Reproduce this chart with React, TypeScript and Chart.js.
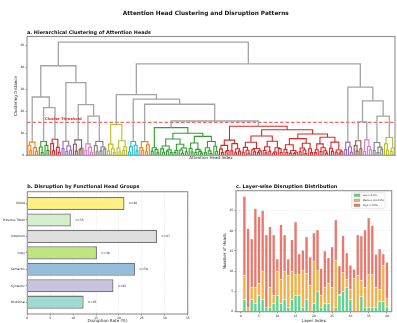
import React, { useEffect, useRef } from "react";
import { Chart, registerables } from "chart.js";
Chart.register(...registerables);

const FONT = "'DejaVu Sans', 'Liberation Sans', sans-serif";
const TEXT = "#262626";

// ---------------- Panel a: hierarchical clustering ----------------
// Compact tree notation: "o" = leaf, "(AB)h" = merge of A and B at height h,
// uppercase letter = reference to a colored cluster.
const clusterIds = ["A", "B", "C", "D", "E", "F", "G", "H", "I", "J", "K", "L", "M", "N", "O", "P", "Q"];
const clusterColors = [
  "#ff7f0e", "#2ca02c", "#d62728", "#9467bd", "#8c564b", "#e377c2", "#7f7f7f", "#bcbd22", "#17becf",
  "#ff7f0e", "#2ca02c", "#d62728", "#9467bd", "#8c564b", "#e377c2", "#7f7f7f", "#bcbd22",
];
const greenBigParts = [
  "((oo)1.8(o(oo)1.1)2.6)3.4",
  "((o(oo)1.4)2.9((oo)1.9(oo)1.2)2.5)4.2",
  "(((oo)1.3o)2.2((o(oo)0.9)2.4(oo)1.6)3.3)5.0",
  "((o(oo)1.5)3.1((oo)1.3(o(oo)1.0)1.8)2.7)5.6",
  "(((oo)1.2(o(oo)0.8)2.0)3.4(o(oo)1.7)4.1)6.3",
];
const redBigParts = [
  "((o(oo)1.2)2.8((oo)1.6o)2.2)4.5",
  "((oo)2.0((oo)1.1(oo)1.9)3.0)5.3",
  "(((oo)1.4(o(oo)0.9)2.3)3.6((o(oo)1.6)2.5((oo)1.2o)2.0)3.1)5.9",
  "(((o(oo)1.1)2.2(oo)1.8)3.9(((oo)0.9o)1.5(o(oo)1.3)2.9)3.4)6.4",
  "((o(oo)1.3)2.7((oo)1.0((oo)0.8o)1.4)2.2)4.8",
  "(((oo)1.6(o(oo)0.8)2.4)3.3(o(oo)1.2)3.0)5.5",
  "(((oo)1.2o)2.5((oo)1.7(o(oo)1.0)2.1)3.4)5.2",
  "((o(oo)1.8)3.2((oo)1.4((oo)0.9o)1.6)2.4)6.0",
];
const g = greenBigParts;
const r = redBigParts;
const clusterTrees = [
  "((o(oo)2.1)4.6(o(oo)1.8)3.5)6.0",
  "((o(oo)1.3)3.8(o(oo)2.2)4.5)6.3",
  "((o(oo)2.0)5.3(o(oo)1.4)3.6)7.3",
  "((oo)3.1((oo)1.7(oo)2.3)4.2)6.4",
  "((o(oo)1.9)5.0((oo)2.6o)3.2)7.0",
  "((oo)2.2(o(oo)1.4)3.6)5.2",
  "((o(oo)1.6)4.4((oo)2.0(oo)2.9)3.8)6.3",
  "(((oo)1.9(o(oo)1.2)3.0)5.1((o(oo)1.5)3.3((oo)2.2o)3.9)6.6)14.0",
  "(((oo)1.5o)3.9(o(oo)2.0)4.6)6.3",
  "((o(oo)2.3)3.5((oo)1.6o)4.8)6.2",
  `(${g[0]}((${g[1]}${g[2]})7.4(${g[3]}${g[4]})8.6)10.0)12.6`,
  `((${r[0]}${r[1]})6.9((${r[2]}${r[3]})8.8((${r[4]}${r[5]})7.6(${r[6]}${r[7]})8.2)9.7)11.6)13.2`,
  "((oo)2.6(o(oo)1.4)3.8)6.0",
  "((o(oo)1.9)4.4(oo)3.0)6.6",
  "((oo)1.7(o(oo)2.5)4.0)7.0",
  "((oo)2.2((oo)1.3(oo)2.7)3.7)5.8",
  "((o(oo)2.4)5.2((oo)1.8o)3.3)8.1",
];
const upperTree =
  "(((A(BC)21.7)26.5(D(E(FG)17.8)23.0)33.0)40.7((H(I(J(KL)15.6)23.2)25.5)27.6(M((NO)15.2(PQ)17.8)24.7)31.0)41.6)51.4";
const upperLinkColor = "#a4a4a4";
const clusterThreshold = 15;
const distanceTicks = [0, 10, 20, 30, 40, 50];

// ---------------- Panel b: functional groups ----------------
const groupNames = ["Mixed", "Previous Token", "Induction", "Copy", "Semantic", "Syntactic", "Positional"];
const groupRates = [21.2, 9.5, 28.3, 15.2, 23.5, 18.8, 12.3];
const groupCounts = [40, 35, 47, 38, 58, 62, 45];
const groupColors = [
  "rgba(255,237,111,0.85)", "rgba(204,235,197,0.85)", "rgba(217,217,217,0.85)", "rgba(179,222,105,0.85)",
  "rgba(128,177,211,0.85)", "rgba(190,186,218,0.85)", "rgba(141,211,199,0.85)",
];

// ---------------- Panel c: layer-wise distribution ----------------
const layerIndex = [1, 2, 3, 4, 5, 6, 7, 8, 9, 10, 11, 12, 13, 14, 15, 16, 17, 18, 19, 20,
  21, 22, 23, 24, 25, 26, 27, 28, 29, 30, 31, 32, 33, 34, 35, 36, 37, 38, 39, 40];
const lowCounts = [3, 0, 3, 2, 4, 3, 1, 1, 2, 4, 2, 3, 1, 3, 4, 4, 1, 3, 0, 2,
  5, 1, 2, 2, 0, 1, 4, 5, 6, 3, 0, 0, 3.8, 1, 1, 1, 1, 2.5, 2.5, 1.2];
const mediumCounts = [6, 1, 3, 4, 3, 7, 0, 5, 2, 6, 6, 7, 8, 7, 5.3, 5.3, 9.3, 6.5, 6.5, 10.5,
  5.3, 3, 4, 5, 6, 11.7, 0.3, 4.8, 2, 2.5, 8.3, 9, 4, 5, 8.3, 8.3, 5, 3, 9, 2];
const highCounts = [19.5, 19.5, 12, 19.5, 16.5, 15, 18, 15, 15, 3, 13.5, 9, 4, 7.8, 12.9, 5, 4.9, 9, 7, 7,
  9.9, 6.7, 9, 6.3, 10, 10, 7, 9, 6.5, 6, 2.2, 10, 10.9, 14.2, 13.9, 12, 8.2, 10, 2.8, 9];
const levelNames = ["Low (<10%)", "Medium (10-20%)", "High (>20%)"];
const levelColors = ["rgba(46,204,113,0.8)", "rgba(243,156,18,0.8)", "rgba(231,76,60,0.76)"];

// ---------------- helpers ----------------
type DNode = { leaf: boolean; h: number; l?: DNode; r?: DNode; color: string; x: number };

function parseTree(s: string, refs: Record<string, DNode>, color: string): DNode {
  let i = 0;
  const num = () => {
    const j = i;
    while (i < s.length && /[0-9.]/.test(s[i])) i++;
    return parseFloat(s.slice(j, i));
  };
  const node = (): DNode => {
    const c = s[i];
    if (c === "o") {
      i++;
      return { leaf: true, h: 0, color, x: 0 };
    }
    if (c === "(") {
      i++;
      const l = node();
      const rr = node();
      i++;
      const h = num();
      return { leaf: false, h, l, r: rr, color, x: 0 };
    }
    i++;
    return refs[c];
  };
  return node();
}

function buildDendrogram() {
  const refs: Record<string, DNode> = {};
  clusterIds.forEach((id, k) => {
    refs[id] = parseTree(clusterTrees[k], refs, clusterColors[k]);
  });
  const root = parseTree(upperTree, refs, upperLinkColor);
  let n = 0;
  const place = (d: DNode) => {
    if (d.leaf) {
      d.x = 5 + 10 * n++;
    } else {
      place(d.l!);
      place(d.r!);
      d.x = (d.l!.x + d.r!.x) / 2;
    }
  };
  place(root);
  const segs: Record<string, { x: number; y: number | null }[]> = {};
  segs[upperLinkColor] = [];
  const walk = (d: DNode) => {
    if (d.leaf) return;
    walk(d.l!);
    walk(d.r!);
    const arr = (segs[d.color] = segs[d.color] || []);
    arr.push(
      { x: d.l!.x, y: d.l!.h },
      { x: d.l!.x, y: d.h },
      { x: d.r!.x, y: d.h },
      { x: d.r!.x, y: d.r!.h },
      { x: d.r!.x, y: null }
    );
  };
  walk(root);
  return { segs, leafCount: n };
}

function text(ctx: CanvasRenderingContext2D, s: string, x: number, y: number, font: string, color: string,
  align: CanvasTextAlign = "left", baseline: CanvasTextBaseline = "middle") {
  ctx.save();
  ctx.font = font;
  ctx.fillStyle = color;
  ctx.textAlign = align;
  ctx.textBaseline = baseline;
  ctx.fillText(s, x, y);
  ctx.restore();
}

function frame(chart: any) {
  const { ctx, chartArea: a } = chart;
  ctx.save();
  ctx.strokeStyle = "#8f8f8f";
  ctx.lineWidth = 1.1;
  ctx.strokeRect(a.left, a.top, a.right - a.left, a.bottom - a.top);
  ctx.restore();
}

const tickFont = { family: FONT, size: 3 };
const axisTitleFont = { family: FONT, size: 4.1, lineHeight: 1 };

function ChartCanvas({ left, top, width, height, make }: any) {
  const ref = useRef<HTMLCanvasElement>(null);
  useEffect(() => {
    const chart = new Chart(ref.current!, make());
    return () => chart.destroy();
  }, []);
  return (
    <canvas ref={ref} width={width} height={height}
      style={{ position: "absolute", left, top, width, height }} />
  );
}

function makeDendrogram() {
  const { segs, leafCount } = buildDendrogram();
  const datasets: any[] = Object.keys(segs).map((c) => ({
    data: segs[c],
    showLine: true,
    borderColor: c,
    borderWidth: c === upperLinkColor ? 1.3 : 1.1,
    pointRadius: 0,
    spanGaps: false,
    borderCapStyle: "butt",
    borderJoinStyle: "miter",
  }));
  datasets.push({
    data: [{ x: 0, y: clusterThreshold }, { x: leafCount * 10, y: clusterThreshold }],
    showLine: true,
    borderColor: "rgba(240,30,30,0.85)",
    borderWidth: 1,
    borderDash: [3.5, 2],
    pointRadius: 0,
  });
  return {
    type: "scatter",
    data: { datasets },
    options: {
      animation: false,
      responsive: false,
      events: [],
      layout: { padding: { left: 0, right: 2, top: 36.5, bottom: 10.2 } },
      plugins: { legend: { display: false }, tooltip: { enabled: false } },
      scales: {
        x: {
          type: "linear", min: 0, max: leafCount * 10,
          ticks: { display: false }, grid: { display: false }, border: { display: false },
          title: { display: true, text: "Attention Head Index", font: axisTitleFont, color: TEXT, padding: 0 },
          afterFit: (s: any) => { s.height = 4.5; },
        },
        y: {
          min: 0, max: 54,
          afterBuildTicks: (s: any) => { s.ticks = distanceTicks.map((v) => ({ value: v })); },
          ticks: { font: tickFont, color: TEXT, padding: 1.3 },
          grid: { drawOnChartArea: false, drawTicks: true, tickLength: 1.5, color: "#555", lineWidth: 0.6 },
          border: { display: false },
          title: { display: true, text: "Clustering Distance", font: axisTitleFont, color: TEXT, padding: { top: 14, bottom: 0 } },
          afterFit: (s: any) => { s.width = 27; },
        },
      },
    },
    plugins: [{
      id: "decor",
      afterDatasetsDraw(chart: any) {
        const { ctx, scales } = chart;
        text(ctx, "Cluster Threshold", scales.x.getPixelForValue(95), scales.y.getPixelForValue(16.4),
          `bold 3.67px ${FONT}`, "#ee2222");
      },
      afterDraw(chart: any) {
        const { ctx, chartArea } = chart;
        frame(chart);
        text(ctx, "Attention Head Clustering and Disruption Patterns", 205.8, 13, `bold 5.8px ${FONT}`, "#111", "center");
        text(ctx, "a. Hierarchical Clustering of Attention Heads", chartArea.left, chartArea.top - 4.2, `bold 4.9px ${FONT}`, "#111");
      },
    }],
  };
}

function makeGroups() {
  return {
    type: "bar",
    data: {
      datasets: [{
        data: groupRates.map((v, i) => ({ x: v, y: i })),
        backgroundColor: groupColors,
        borderColor: "rgba(95,95,95,0.85)",
        borderWidth: 1.3,
        barPercentage: 0.8,
        categoryPercentage: 1,
      }],
    },
    options: {
      indexAxis: "y",
      animation: false,
      responsive: false,
      events: [],
      layout: { padding: { left: 0, right: 12.3, top: 21.7, bottom: 0.5 } },
      plugins: { legend: { display: false }, tooltip: { enabled: false } },
      scales: {
        x: {
          type: "linear", min: 0, max: 35,
          ticks: { stepSize: 5, font: tickFont, color: TEXT, padding: 0.8, maxRotation: 0 },
          grid: { color: "rgba(0,0,0,0.13)", lineWidth: 0.6, drawTicks: true, tickLength: 1.5, tickColor: "#555", tickWidth: 0.6 },
          border: { display: false, dash: [1.5, 1.5] },
          title: { display: true, text: "Disruption Rate (%)", font: axisTitleFont, color: TEXT, padding: 0 },
          afterFit: (s: any) => { s.height = 8.5; },
        },
        y: {
          type: "linear", reverse: true, min: -0.72, max: 6.72, offset: false,
          ticks: { stepSize: 1, includeBounds: false, autoSkip: false, font: tickFont, color: TEXT, padding: 0.8,
            callback: (v: any) => groupNames[v] ?? "" },
          grid: { offset: false, drawOnChartArea: false, drawTicks: true, tickLength: 1.5, color: "#555", lineWidth: 0.6 },
          border: { display: false },
          afterFit: (s: any) => { s.width = 27.3; },
        },
      },
    },
    plugins: [{
      id: "decor",
      afterDatasetsDraw(chart: any) {
        const { ctx, scales } = chart;
        groupRates.forEach((v, i) => {
          text(ctx, `n=${groupCounts[i]}`, scales.x.getPixelForValue(v + 1), scales.y.getPixelForValue(i),
            `3px ${FONT}`, TEXT);
        });
      },
      afterDraw(chart: any) {
        const { ctx, chartArea } = chart;
        frame(chart);
        text(ctx, "b. Disruption by Functional Head Groups", chartArea.left, chartArea.top - 5, `bold 4.9px ${FONT}`, "#111");
      },
    }],
  };
}

function makeLayers() {
  const series = [lowCounts, mediumCounts, highCounts];
  return {
    type: "bar",
    data: {
      datasets: series.map((arr, k) => ({
        label: levelNames[k],
        data: layerIndex.map((l, i) => ({ x: l, y: arr[i] })),
        backgroundColor: levelColors[k],
        borderColor: "rgba(160,160,160,0.5)",
        borderWidth: 0.35,
        barPercentage: 0.82,
        categoryPercentage: 1,
      })),
    },
    options: {
      animation: false,
      responsive: false,
      events: [],
      layout: { padding: { left: 0, right: 5.3, top: 20.7, bottom: 0.5 } },
      plugins: { legend: { display: false }, tooltip: { enabled: false } },
      scales: {
        x: {
          type: "linear", stacked: true, min: -1.3, max: 41.3, offset: false,
          ticks: { stepSize: 5, includeBounds: false, font: tickFont, color: TEXT, padding: 0.8, maxRotation: 0 },
          grid: { offset: false, drawOnChartArea: false, drawTicks: true, tickLength: 1.5, color: "#555", lineWidth: 0.6 },
          border: { display: false },
          title: { display: true, text: "Layer Index", font: axisTitleFont, color: TEXT, padding: 0 },
          afterFit: (s: any) => { s.height = 10.8; },
        },
        y: {
          stacked: true, min: 0, max: 29.9,
          ticks: { stepSize: 5, includeBounds: false, font: tickFont, color: TEXT, padding: 1.3 },
          grid: { color: "rgba(0,0,0,0.13)", lineWidth: 0.6, drawTicks: true, tickLength: 1.5, tickColor: "#555", tickWidth: 0.6 },
          border: { display: false, dash: [1.5, 1.5] },
          title: { display: true, text: "Number of Heads", font: axisTitleFont, color: TEXT, padding: { top: 23, bottom: 0 } },
          afterFit: (s: any) => { s.width = 36; },
        },
      },
    },
    plugins: [{
      id: "decor",
      afterDraw(chart: any) {
        const { ctx, chartArea: a } = chart;
        frame(chart);
        text(ctx, "c. Layer-wise Disruption Distribution", a.left, a.top - 4, `bold 4.9px ${FONT}`, "#111");
        // legend
        const bw = 33.3, bh = 15.6;
        const bx = a.right - 6.7 - bw, by = a.top + 2;
        ctx.save();
        ctx.fillStyle = "rgba(255,255,255,0.85)";
        ctx.strokeStyle = "#d0d0d0";
        ctx.lineWidth = 0.5;
        ctx.beginPath();
        ctx.roundRect(bx, by, bw, bh, 1);
        ctx.fill();
        ctx.stroke();
        chart.data.datasets.forEach((ds: any, k: number) => {
          const cy = by + 2.6 + k * 5;
          ctx.fillStyle = ds.backgroundColor;
          ctx.fillRect(bx + 2.3, cy - 1.3, 6, 2.6);
          ctx.strokeStyle = "rgba(130,130,130,0.7)";
          ctx.lineWidth = 0.4;
          ctx.strokeRect(bx + 2.3, cy - 1.3, 6, 2.6);
          text(ctx, ds.label, bx + 11, cy, `2.4px ${FONT}`, TEXT);
        });
        ctx.restore();
      },
    }],
  };
}

export default function App() {
  return (
    <div style={{ position: "absolute", left: 0, top: 0, width: 397, height: 323, background: "#fff", overflow: "hidden" }}>
      <ChartCanvas left={0} top={0} width={397} height={170} make={makeDendrogram} />
      <ChartCanvas left={0} top={170} width={200} height={153} make={makeGroups} />
      <ChartCanvas left={200} top={170} width={197} height={153} make={makeLayers} />
    </div>
  );
}
